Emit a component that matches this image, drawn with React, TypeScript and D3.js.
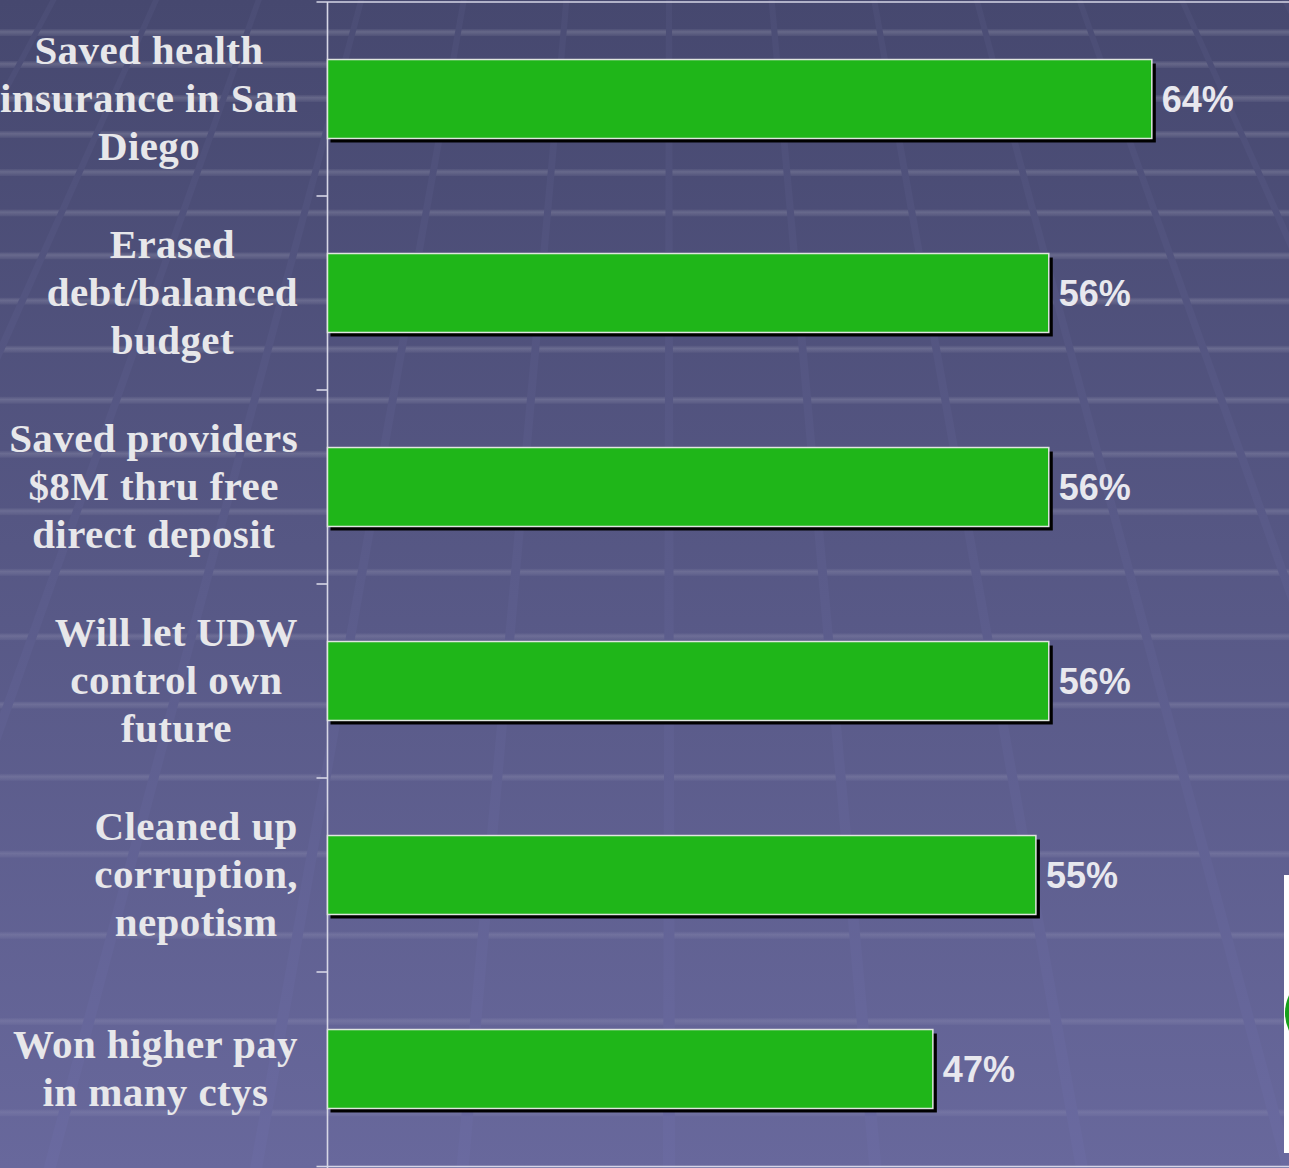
import * as d3 from 'd3';
import { useEffect, useRef } from 'react';

const W = 1289;
const H = 1168;

// chart data
const categories = [
  'Saved health insurance in San Diego',
  'Erased debt/balanced budget',
  'Saved providers $8M thru free direct deposit',
  'Will let UDW control own future',
  'Cleaned up corruption, nepotism',
  'Won higher pay in many ctys',
];
const categoryLines = [
  ['Saved health', 'insurance in San', 'Diego'],
  ['Erased', 'debt/balanced', 'budget'],
  ['Saved providers', '$8M thru free', 'direct deposit'],
  ['Will let UDW', 'control own', 'future'],
  ['Cleaned up', 'corruption,', 'nepotism'],
  ['Won higher pay', 'in many ctys'],
];
const values = [64, 56, 56, 56, 55, 47];

const App = () => {
  const svgRef = useRef<SVGSVGElement>(null);

  useEffect(() => {
    const svg = d3.select(svgRef.current);
    svg.selectAll('*').remove();

    const defs = svg.append('defs');
    const bg = defs.append('linearGradient').attr('id', 'bg').attr('x1', 0).attr('y1', 0).attr('x2', 0).attr('y2', 1);
    bg.append('stop').attr('offset', '0%').attr('stop-color', '#46486f');
    bg.append('stop').attr('offset', '100%').attr('stop-color', '#68689c');

    const ln = defs
      .append('linearGradient')
      .attr('id', 'ln')
      .attr('gradientUnits', 'userSpaceOnUse')
      .attr('x1', 0)
      .attr('y1', 0)
      .attr('x2', 0)
      .attr('y2', H);
    ln.append('stop').attr('offset', '0%').attr('stop-color', '#4b4d75');
    ln.append('stop').attr('offset', '100%').attr('stop-color', '#6a6aa0');

    const st = defs.append('linearGradient').attr('id', 'st').attr('x1', 0).attr('y1', 0).attr('x2', 0).attr('y2', 1);
    st.append('stop').attr('offset', '0%').attr('stop-color', '#ffffff').attr('stop-opacity', 0.04);
    st.append('stop').attr('offset', '40%').attr('stop-color', '#ffffff').attr('stop-opacity', 0.17);
    st.append('stop').attr('offset', '100%').attr('stop-color', '#ffffff').attr('stop-opacity', 0.05);

    // background
    svg.append('rect').attr('width', W).attr('height', H).attr('fill', 'url(#bg)');

    // perspective floor: horizontal stripes
    const stripes: number[] = [];
    let sy = 32;
    let sd = 32;
    while (sy < H) {
      stripes.push(sy);
      sy += sd;
      sd *= 1.06;
    }
    svg
      .append('g')
      .selectAll('rect')
      .data(stripes)
      .join('rect')
      .attr('x', 0)
      .attr('y', (d) => d - 3)
      .attr('width', W)
      .attr('height', 7)
      .attr('fill', 'url(#st)')
      .attr('opacity', (d) => 1 - (d / H) * 0.5);

    // perspective floor: converging lines
    const vx = 669;
    const vy = -1154;
    const k = 0.0889;
    const hw = (yy: number) => 0.0026 * (yy - vy);
    const gx = (i: number, yy: number) => vx + i * k * (yy - vy);
    svg
      .append('g')
      .selectAll('polygon')
      .data(d3.range(-9, 9))
      .join('polygon')
      .attr('points', (i) =>
        [
          [gx(i, 0) - hw(0), 0],
          [gx(i, 0) + hw(0), 0],
          [gx(i, H) + hw(H), H],
          [gx(i, H) - hw(H), H],
        ]
          .map((p) => p.join(','))
          .join(' ')
      )
      .attr('fill', 'url(#ln)');

    // scales
    const y = d3
      .scaleBand()
      .domain(categories)
      .range([2, 1166])
      .paddingInner(0.593)
      .paddingOuter(0.2965);
    const x = d3.scaleLinear().domain([0, 75]).range([327.5, 327.5 + 966]);
    const bw = y.bandwidth();

    // axis frame
    const axisColor = '#d6d6e6';
    const x0 = x(0);
    svg
      .append('line')
      .attr('x1', x0)
      .attr('x2', x0)
      .attr('y1', 2)
      .attr('y2', H)
      .attr('stroke', axisColor)
      .attr('stroke-width', 1.6);
    svg
      .append('line')
      .attr('x1', x0 - 11)
      .attr('x2', W)
      .attr('y1', 2)
      .attr('y2', 2)
      .attr('stroke', axisColor)
      .attr('stroke-width', 1.6);
    svg
      .append('line')
      .attr('x1', x0 - 11)
      .attr('x2', W)
      .attr('y1', 1166.5)
      .attr('y2', 1166.5)
      .attr('stroke', axisColor)
      .attr('stroke-width', 1.6);
    svg
      .append('g')
      .selectAll('line')
      .data(d3.range(1, categories.length))
      .join('line')
      .attr('x1', x0 - 11)
      .attr('x2', x0)
      .attr('y1', (i) => 2 + i * y.step())
      .attr('y2', (i) => 2 + i * y.step())
      .attr('stroke', axisColor)
      .attr('stroke-width', 1.6);

    // bars
    const data = categories.map((c, i) => ({ c, v: values[i], lines: categoryLines[i] }));
    svg
      .append('g')
      .selectAll('rect')
      .data(data)
      .join('rect')
      .attr('x', x0 + 3)
      .attr('y', (d) => y(d.c)! + 4)
      .attr('width', (d) => x(d.v) - x0 + 1)
      .attr('height', bw)
      .attr('fill', '#000');
    svg
      .append('g')
      .selectAll('rect')
      .data(data)
      .join('rect')
      .attr('x', x0)
      .attr('y', (d) => y(d.c)!)
      .attr('width', (d) => x(d.v) - x0)
      .attr('height', bw)
      .attr('fill', '#1fb619')
      .attr('stroke', '#dfe6df')
      .attr('stroke-width', 1.5);

    // value labels
    svg
      .append('g')
      .selectAll('text')
      .data(data)
      .join('text')
      .attr('x', (d) => x(d.v) + 10)
      .attr('y', (d) => y(d.c)! + bw / 2 + 12.6)
      .attr('font-family', '"Liberation Sans", Arial, sans-serif')
      .attr('font-weight', 'bold')
      .attr('font-size', 36)
      .attr('fill', '#e8e8ee')
      .text((d) => `${d.v}%`);

    // category labels: centred block, widest line ending at x=298
    const labelG = svg.append('g');
    data.forEach((d) => {
      const cy = y(d.c)! + bw / 2;
      const n = d.lines.length;
      const texts = d.lines.map((line, j) =>
        labelG
          .append('text')
          .attr('y', cy + 13 + (j - (n - 1) / 2) * 48)
          .attr('text-anchor', 'middle')
          .attr('font-family', '"Liberation Serif", "Times New Roman", serif')
          .attr('font-weight', 'bold')
          .attr('font-size', 41)
          .attr('letter-spacing', 0.4)
          .attr('fill', '#e7e7ea')
          .text(line)
      );
      const maxW = d3.max(texts, (t) => (t.node() as SVGTextElement).getComputedTextLength()) || 0;
      texts.forEach((t) => t.attr('x', 298 - maxW / 2));
    });

    // slide decoration at bottom right
    defs.append('clipPath').attr('id', 'box').append('rect').attr('x', 1284).attr('y', 875).attr('width', 10).attr('height', 278);
    svg.append('rect').attr('x', 1284).attr('y', 875).attr('width', 10).attr('height', 278).attr('fill', '#ffffff');
    svg
      .append('ellipse')
      .attr('cx', 1335)
      .attr('cy', 1013)
      .attr('rx', 50)
      .attr('ry', 45)
      .attr('fill', '#17a01c')
      .attr('clip-path', 'url(#box)');
  }, []);

  return <svg ref={svgRef} width={W} height={H} style={{ position: 'absolute', left: 0, top: 0, display: 'block' }} />;
};

export default App;
